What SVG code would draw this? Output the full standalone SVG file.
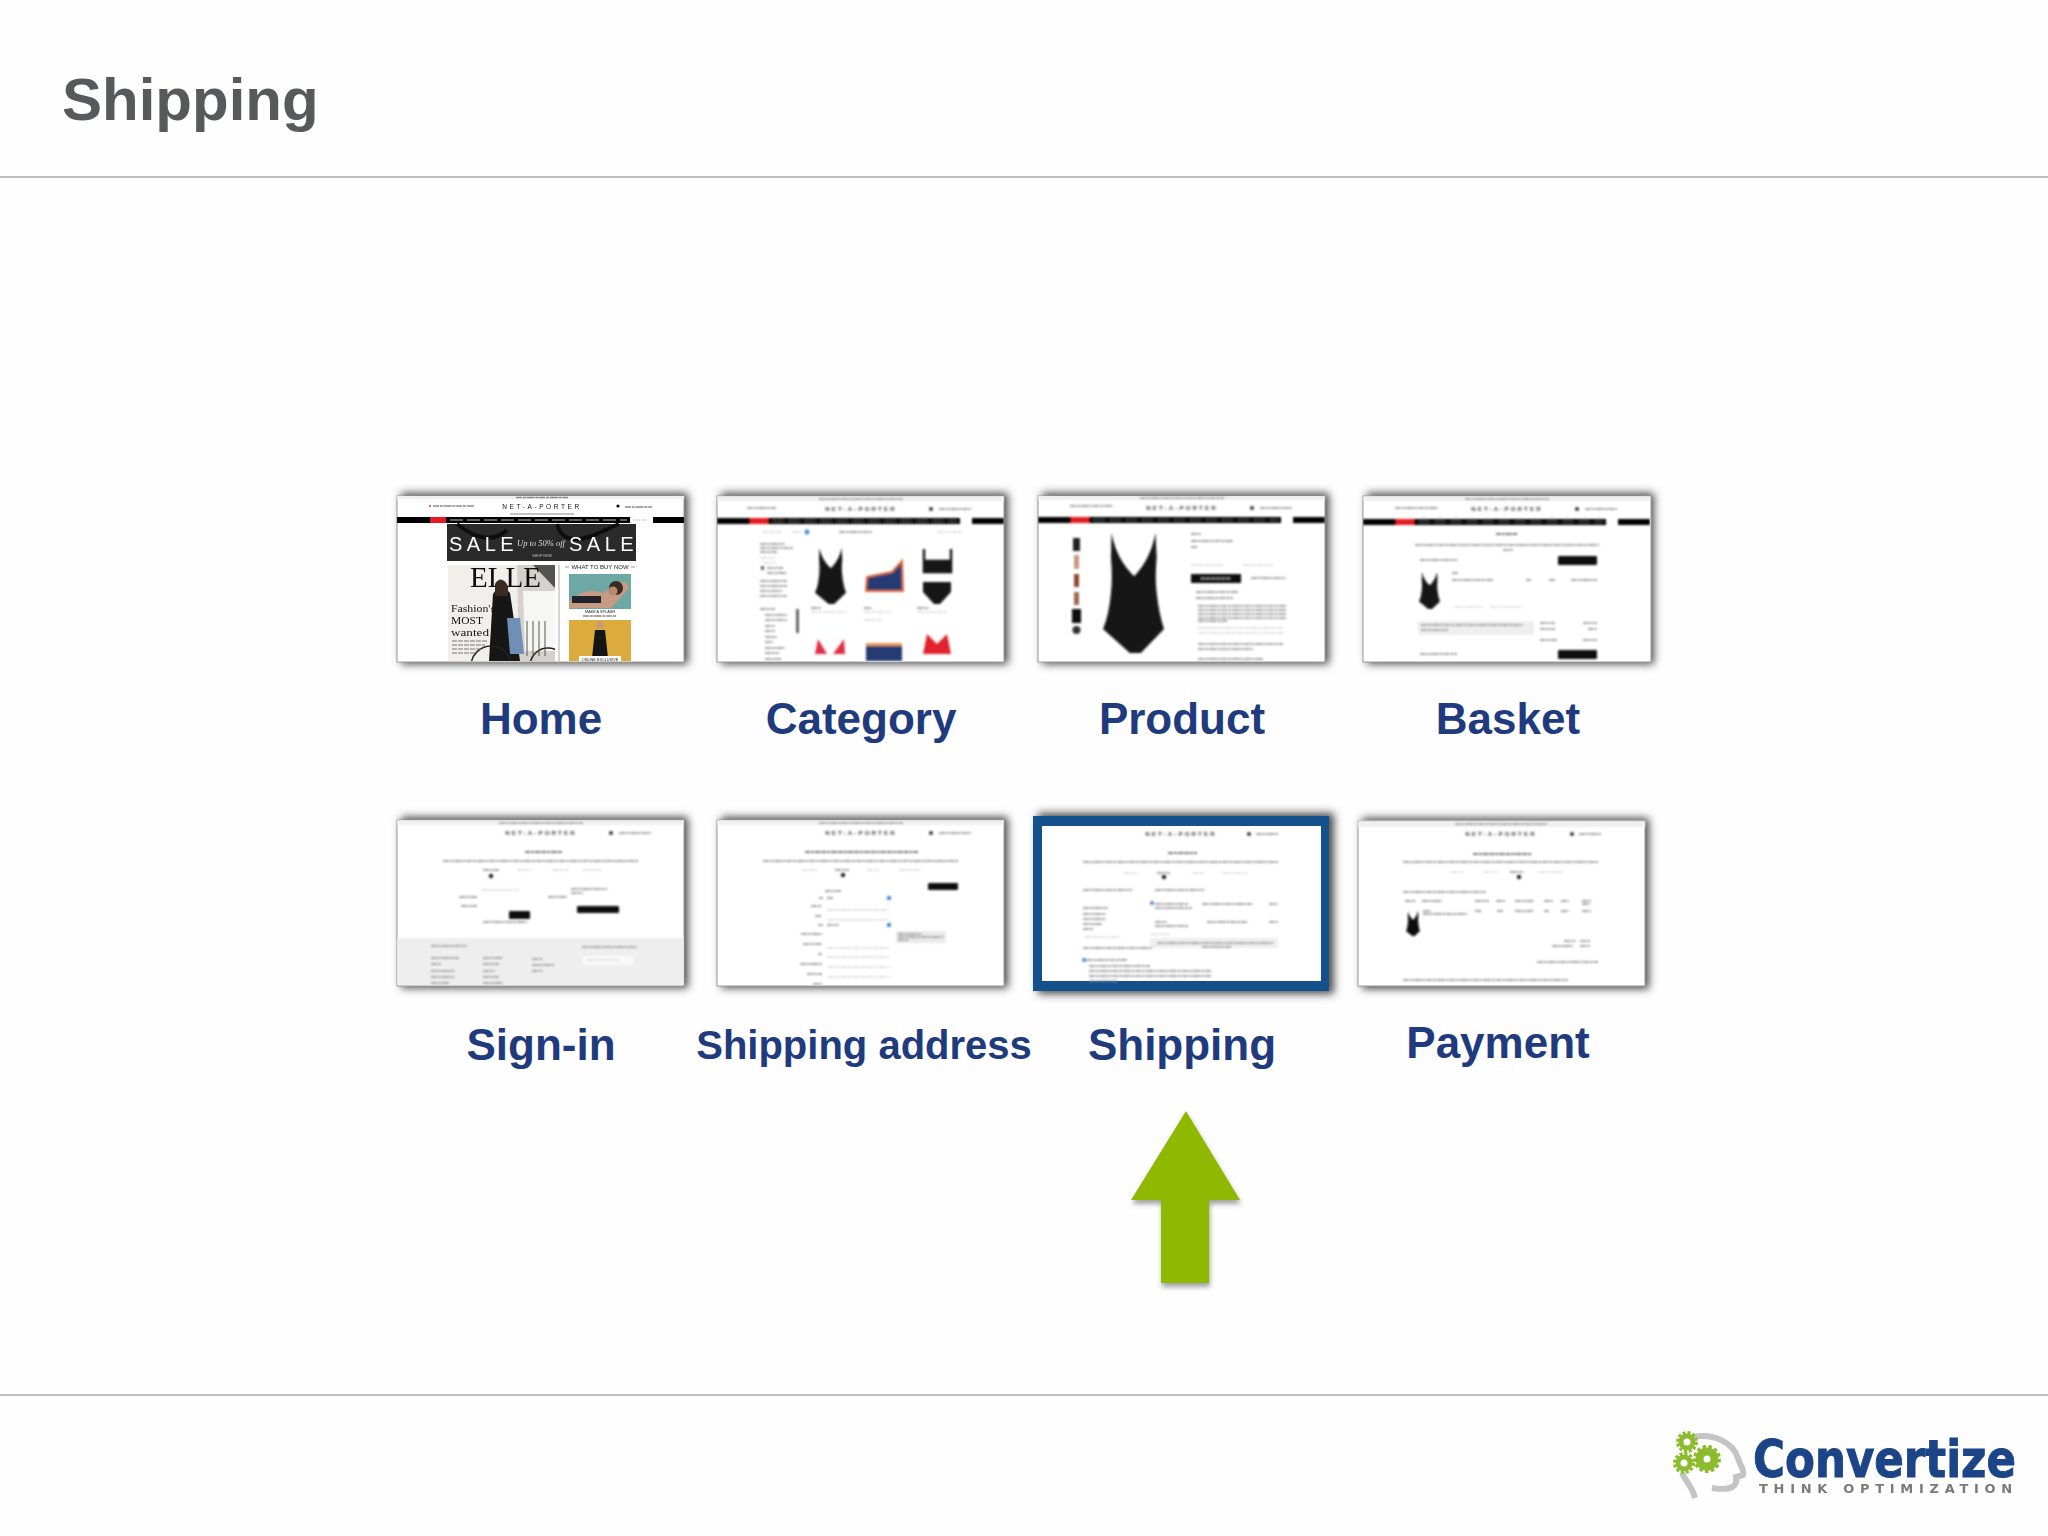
<svg xmlns="http://www.w3.org/2000/svg" xmlns:xlink="http://www.w3.org/1999/xlink" width="2048" height="1536" viewBox="0 0 2048 1536">
<style>
.rule{stroke:#a9a9a9;stroke-width:1.6;fill:none}
.title{font:bold 60px "Liberation Sans",Arial,sans-serif;fill:#58595b}
.lab{font:bold 44px "Liberation Sans",Arial,sans-serif;fill:#1f3b7d;text-anchor:middle}
.page{fill:#fff;stroke:#9a9a9a;stroke-width:1}
.shadow{fill:#4a4a4a;filter:url(#sh)}
.l{stroke:#8a8a8a;stroke-width:1.500;fill:none;stroke-dasharray:6 .8 3 .8 8 .8 3 .8}
.l2{stroke:#dadada;stroke-width:1.500;fill:none;stroke-dasharray:7 1 4 1}
.l3{stroke:#555;stroke-width:1.500;fill:none;stroke-dasharray:5 .8 3 .8 6 .8}
.logo{font:bold 6.200px "Liberation Sans",Arial,sans-serif;letter-spacing:2.100px;fill:#444;text-anchor:middle}
.s{font-family:"Liberation Sans",Arial,sans-serif;text-anchor:middle;fill:#222}
.serif{font-family:"Liberation Serif","Times New Roman",serif;fill:#111}
.gear{fill:#fff;stroke:#8cbb2e}
.gt{fill:none;stroke:#8cbb2e}
</style>
<defs>
<filter id="sh" x="-10%" y="-15%" width="120%" height="130%"><feGaussianBlur stdDeviation="4"/></filter>
<filter id="b1" x="-2%" y="-2%" width="104%" height="104%"><feGaussianBlur stdDeviation="0.45"/></filter>
<filter id="b2" x="-2%" y="-2%" width="104%" height="104%"><feGaussianBlur stdDeviation="1"/></filter>
<filter id="ash" x="-20%" y="-10%" width="140%" height="125%"><feDropShadow dx="1" dy="4" stdDeviation="2.500" flood-color="#555" flood-opacity=".55"/></filter>
<filter id="soft" x="-5%" y="-5%" width="110%" height="110%"><feGaussianBlur stdDeviation="0.5"/></filter>
<clipPath id="ph"><rect x="51" y="69" width="107" height="96"/></clipPath>
<clipPath id="pg"><rect width="287" height="165"/></clipPath>
<path id="suit" d="M14,0 Q22,22 51,36 Q78,22 86,0 L88,20 Q85,38 88,50 Q92,68 100,80 L62,100 H44 L0,80 Q10,68 13,50 Q16,38 13,20 Z"/>
<g id="hdr">
<rect width="287" height="5" fill="#efefef"/>
<path class="l" d="M102,3H186"/>
<text class="logo" x="144" y="15">NET-A-PORTER</text>
<circle cx="214" cy="13" r="2" fill="#333"/>
<path class="l" d="M222,13H254"/>
</g>
<g id="nav">
<rect x="0" y="22" width="243" height="6" fill="#000"/>
<rect x="255" y="22" width="32" height="6" fill="#000"/>
<rect x="33" y="22" width="18" height="6" fill="#e21a22"/>
<path d="M55,25H240" stroke="#666" stroke-width="1.200" stroke-dasharray="12 4"/>
</g>
<g id="track">
<path class="l" d="M46,41H241"/>
</g>
</defs>

<rect width="2048" height="1536" fill="#fefefe"/>

<g id="header">
<text class="title" x="62" y="120">Shipping</text>
<path class="rule" d="M0,177H2048"/>
</g>
<path id="footer-rule" class="rule" d="M0,1395H2048"/>

<g id="node-home" transform="translate(397,496)">
<rect class="shadow" x="4" y="-3" width="287" height="171"/>
<rect class="page" width="287" height="166"/>
<g filter="url(#b1)">
<rect width="287" height="3" fill="#eee"/>
<path class="l" d="M119,1.500H171" stroke-width="1"/>
<circle cx="33" cy="10" r="1" fill="#d33"/><path class="l" d="M36,10H77" stroke-width="1.200"/>
<text x="145" y="13" class="logo" style="font-size:6.500px;letter-spacing:2.600px;font-weight:normal;fill:#111">NET-A-PORTER</text>
<path d="M113,18H177" stroke="#888" stroke-width="1"/>
<circle cx="221" cy="10" r="1.600" fill="#111"/><path class="l" d="M228,11H255" stroke-width="1.200"/>
<rect y="21" width="233" height="6" fill="#000"/><rect x="256" y="21" width="31" height="6" fill="#000"/>
<rect x="33" y="21" width="16" height="6" fill="#e21a22"/>
<path d="M53,24H230" stroke="#bbb" stroke-width="1.200" stroke-dasharray="13 4"/>
<path class="l2" d="M236,24H250"/>
<rect x="50" y="28" width="189" height="37" fill="#2a2a2c"/>
<path d="M60,28 Q90,52 110,34 M160,28 Q165,50 195,40 L222,28" stroke="#111" stroke-width="4" fill="none"/>
<text x="52" y="55" style="font:20px 'Liberation Sans',Arial,sans-serif;letter-spacing:4.500px" fill="#fff">SALE</text>
<text x="172" y="55" style="font:20px 'Liberation Sans',Arial,sans-serif;letter-spacing:4.500px" fill="#fff">SALE</text>
<text x="144" y="50" class="serif" text-anchor="middle" style="font-size:8.500px;font-style:italic;fill:#ddd">Up to 50% off</text>
<text x="145" y="61" class="s" style="font-size:3.500px;fill:#ccc">SHOP NOW</text>
<g clip-path="url(#ph)">
<rect x="51" y="69" width="107" height="96" fill="#f1efec"/>
<path d="M120,69H158V165H122Z" fill="#d5d2cd"/>
<path d="M126,95H158V155H128Z" fill="#f6f6f4"/>
<path d="M136,69 L158,92V69Z" fill="#55524e"/>
<text x="73" y="91" class="serif" style="font-size:29px">ELLE</text>
<path d="M96,98 Q104,86 113,97 L123,165 H92Z" fill="#151515"/>
<circle cx="104" cy="90" r="6" fill="#a67a5f"/>
<path d="M98,88 Q104,78 111,90 L111,100 H98Z" fill="#3a2a22"/>
<path d="M110,122H123L127,158H113Z" fill="#6f8fb5"/>
<circle cx="94" cy="170" r="20" fill="none" stroke="#222" stroke-width="1.500"/>
<circle cx="151" cy="170" r="18" fill="none" stroke="#222" stroke-width="1.500"/>
<path d="M130,160 V125 M136,160 V125 M142,160 V125 M148,160 V125" stroke="#555" stroke-width="1"/>
<text x="54" y="116" class="serif" style="font-size:10.500px" textLength="44" lengthAdjust="spacingAndGlyphs">Fashion's</text>
<text x="54" y="128" class="serif" style="font-size:10.500px" textLength="32" lengthAdjust="spacingAndGlyphs">MOST</text>
<text x="54" y="140" class="serif" style="font-size:10.500px" textLength="38" lengthAdjust="spacingAndGlyphs">wanted</text>
<path d="M55,145H90M55,149H88M55,153H84M55,157H80" stroke="#777" stroke-width="1" stroke-dasharray="5 1"/>
</g>
<path d="M162,69V165" stroke="#aaa" stroke-width="1"/>
<path d="M168,71H172M234,71H238" stroke="#999" stroke-width="1"/>
<text x="203" y="73" class="s" style="font-size:6px">WHAT TO BUY NOW</text>
<rect x="172" y="78" width="62" height="42" fill="#6ea8a4"/>
<path d="M172,105 Q190,90 205,97 L228,85 L232,92 L214,112 H172Z" fill="#c79a82"/>
<rect x="175" y="100" width="29" height="7" fill="#23232d"/>
<circle cx="219" cy="92" r="7" fill="#3a2a24"/><circle cx="216" cy="95" r="4.500" fill="#b98a72"/>
<rect x="172" y="113" width="62" height="8" fill="#fff"/>
<text x="203" y="117" class="s" style="font-size:3.800px">MAKE A SPLASH</text>
<path class="l" d="M186,120H220" stroke-width="1"/>
<rect x="172" y="124" width="62" height="41" fill="#dcab3c"/>
<circle cx="203" cy="129" r="3.500" fill="#c49a7f"/>
<path d="M198,134H208L211,162H195Z" fill="#151515"/>
<rect x="182" y="160" width="42" height="5" fill="#fff"/>
<text x="203" y="164.500" class="s" style="font-size:3.800px">ONLINE EXCLUSIVE</text>
</g>
<text class="lab" x="144" y="238">Home</text>
</g>

<g id="node-category" transform="translate(717,496)">
<rect class="shadow" x="4" y="-3" width="287" height="171"/>
<rect class="page" width="287" height="166"/>
<g filter="url(#b2)" clip-path="url(#pg)">
<use href="#hdr"/><use href="#nav"/>
<path class="l" d="M30,12H60"/>
<path class="l2" d="M45,36H65M75,36H85M220,36H245"/><circle cx="90" cy="36" r="2.500" fill="#4a90d9"/>
<path class="l" d="M122,36H155" stroke-width="2"/>
<path class="l" d="M43,48H68M43,52H76M43,56H60"/><path class="l2" d="M43,62H58M46,67H60"/>
<rect x="44" y="70" width="3" height="4" fill="#666"/><path class="l" d="M50,72H66M50,77H70M43,85H70M43,90H70M43,95H65M43,100H70"/>
<path class="l" d="M43,113H58M48,119H70M48,124H70M48,130H58M48,135H58M48,141H60M48,146H56M48,152H68M48,157H62M48,163H64"/>
<rect x="79" y="113" width="3" height="24" fill="#666"/>
<use href="#suit" transform="translate(98,52) scale(.31,.56)" fill="#161616"/>
<path d="M150,81 L175,76 L185,65 L186,95 H149Z" fill="#253a73" stroke="#d96a3c" stroke-width="2"/>
<path d="M207,53V66H234V53M207,65H234V76H207Z" fill="none" stroke="#161616" stroke-width="2.500"/><rect x="206" y="65" width="29" height="11" fill="#161616"/>
<path d="M206,86H234V96L223,108H217L206,96Z" fill="#161616"/>
<path class="l2" d="M94,116H130M147,116H175M147,124H165M200,116H230"/>
<path class="l" d="M94,112H104M147,112H155M200,112H212"/>
<path d="M98,158 L101,143 L110,158Z M116,158 L127,143 L128,158Z" fill="#dd2e45"/>
<rect x="149" y="149" width="36" height="16" fill="#253a73"/><rect x="149" y="147" width="36" height="3" fill="#e59a55"/>
<path d="M206,158 L210,138 L220,148 L230,138 L234,158Z" fill="#e0202e"/>
</g>
<text class="lab" x="144" y="238">Category</text>
</g>

<g id="node-product" transform="translate(1038,496)">
<rect class="shadow" x="4" y="-3" width="287" height="171"/>
<rect class="page" width="287" height="166"/>
<g filter="url(#b2)" clip-path="url(#pg)">
<use href="#hdr" transform="translate(0,-1)"/>
<use href="#nav" transform="translate(0,-1)"/>
<path class="l" d="M32,10H75"/>
<use href="#suit" transform="translate(65,37) scale(.61,1.200)" fill="#151515"/>
<rect x="35" y="42" width="7" height="13" fill="#222"/>
<rect x="36" y="59" width="5" height="14" fill="#c49a80"/>
<rect x="36" y="78" width="5" height="13" fill="#8a4a30"/>
<rect x="36" y="96" width="5" height="13" fill="#9b6a50"/>
<rect x="34" y="113" width="9" height="14" fill="#111"/>
<circle cx="38.500" cy="134" r="4" fill="#333"/>
<path class="l" d="M153,38H163M153,45H195M153,51H160" />
<path class="l2" d="M153,69H185M205,69H235"/>
<rect x="153" y="78" width="50" height="9" fill="#111"/>
<path d="M163,82.500H193" stroke="#aaa" stroke-width="1" stroke-dasharray="4 1"/>
<path class="l" d="M213,82H248M158,96H200M158,102H195M160,110H248M160,114H248M160,118H248M160,122H248M160,125H190"/>
<path class="l2" d="M160,132H245M160,137H245"/>
<path class="l" d="M160,148H245M160,153H215M160,163H225"/>
</g>
<text class="lab" x="144" y="238">Product</text>
</g>

<g id="node-basket" transform="translate(1363,496)">
<rect class="shadow" x="4" y="-3" width="287" height="171"/>
<rect class="page" width="288" height="166"/>
<g filter="url(#b2)" clip-path="url(#pg)">
<use href="#hdr"/><use href="#nav" transform="translate(0,1)"/>
<path class="l" d="M32,12H75"/>
<path class="l3" d="M133,38H155" stroke-width="2.500"/>
<path class="l" d="M52,49H236M140,54H150"/>
<path class="l" d="M57,64H94"/>
<rect x="195" y="60" width="39" height="9" rx="1" fill="#111"/>
<path class="l2" d="M91,111H120M127,111H158"/>
<use href="#suit" transform="translate(56,76) scale(.21,.37)" fill="#151515"/>
<path class="l" d="M89,77H95M89,84H130M163,84H168M186,84H192M208,84H234"/>
<rect x="55" y="125" width="116" height="14" fill="#eee"/>
<path class="l" d="M58,129H160M58,134H85M177,127H192M220,127H234M177,133H192M225,133H234M177,144H194M220,144H234M57,158H94"/>
<rect x="195" y="154" width="39" height="9" rx="1" fill="#111"/>
</g>
<text class="lab" x="145" y="238">Basket</text>
</g>

<g id="node-sign-in" transform="translate(397,820)">
<rect class="shadow" x="4" y="-3" width="287" height="171"/>
<rect class="page" width="287" height="166"/>
<g filter="url(#b2)" clip-path="url(#pg)">
<use href="#hdr"/>
<path class="l3" d="M128,32H165" stroke-width="2"/>
<use href="#track"/>
<path class="l" d="M86,50H102" /><path class="l2" d="M120,50H135M155,50H172M185,50H205"/>
<circle cx="94" cy="56" r="2.200" fill="#222"/>
<path class="l2" d="M84,70H122"/><path class="l" d="M174,69H210M174,73H186M62,77H80M151,77H170M64,86H80"/>
<rect x="112" y="91" width="21" height="8" rx="1" fill="#111"/>
<rect x="180" y="86" width="42" height="7" rx="1" fill="#111"/>
<path class="l" d="M86,102H130"/>
<rect y="118" width="287" height="48" fill="#eeeeef"/>
<path class="l" d="M34,126H70M185,127H240M34,138H62M86,138H106M135,139H146M34,144H44M86,144H102M135,145H158M34,151H58M86,151H98M135,151H146M34,157H58M86,157H102M34,163H52M86,163H106"/>
<rect x="186" y="136" width="50" height="9" fill="#f9f9f9"/>
<path class="l2" d="M190,140H222"/>
</g>
<text class="lab" x="144" y="240">Sign-in</text>
</g>

<g id="node-shipping-address" transform="translate(717,820)">
<rect class="shadow" x="4" y="-3" width="287" height="171"/>
<rect class="page" width="287" height="166"/>
<g filter="url(#b2)" clip-path="url(#pg)">
<use href="#hdr"/>
<path class="l3" d="M88,32H201" stroke-width="2"/>
<use href="#track"/>
<path class="l2" d="M85,50H100M150,50H162M182,50H204"/><path class="l" d="M118,50H132"/>
<circle cx="126" cy="55" r="2.200" fill="#222"/>
<rect x="211" y="63" width="30" height="7" rx="1" fill="#111"/>
<path class="l" d="M108,71H124M102,78H106M94,86H105M98,96H105M101,105H106M84,114H105M86,124H105M101,134H105M83,144H105M90,154H105M96,164H105"/>
<path class="l" d="M110,78H116M110,105H122"/>
<path class="l2" d="M110,90H172M110,100H172M110,128H172M110,137H172M110,147H172M110,157H172"/>
<circle cx="172" cy="78" r="2.200" fill="#3d87d8"/><circle cx="172" cy="105" r="2.200" fill="#3d87d8"/>
<rect x="179" y="111" width="50" height="12" fill="#eaeaea"/>
<path class="l" d="M181,114H205M181,117H226M181,120H192" stroke-width="1"/>
</g>
<text class="lab" style="font-size:40px" x="147" y="239">Shipping address</text>
</g>

<g id="node-shipping" transform="translate(1033,816)">
<rect class="shadow" x="5" y="-3" width="296" height="181"/>
<rect width="296" height="175" fill="#14508c"/>
<rect x="9" y="10" width="279" height="155" fill="#fff"/>
<g filter="url(#b2)" transform="translate(9,10)">
<text class="logo" x="139" y="10">NET-A-PORTER</text>
<circle cx="207" cy="8" r="2" fill="#333"/><path class="l" d="M214,8H236"/>
<path class="l3" d="M126,27H155" stroke-width="2"/>
<path class="l" d="M41,36H236"/>
<path class="l2" d="M81,47H96M150,47H162M180,47H205"/><path class="l" d="M115,47H128"/>
<circle cx="122" cy="51" r="2.200" fill="#222"/>
<path class="l" d="M41,64H90M113,64H162M41,82H66M41,88H64M41,93H64M41,98H60M41,103H52M113,78H146M160,78H210M227,78H236M113,82H150M113,96H125M113,100H146M165,96H205M227,96H236"/>
<circle cx="110" cy="77" r="2" fill="#3d87d8"/>
<path class="l2" d="M43,111H78M108,108H128"/>
<rect x="108" y="112" width="128" height="10" fill="#eee"/>
<path class="l" d="M115,117H232M160,121H190" stroke-width="1"/>
<path class="l" d="M41,122H110M44,134H85"/><circle cx="42" cy="134" r="2" fill="#3d87d8"/>
<path class="l" d="M47,140H108M47,145H170M47,150H170M47,155H75"/>
</g>
<text class="lab" x="149" y="244">Shipping</text>
</g>

<g id="node-payment" transform="translate(1358,821)">
<rect class="shadow" x="4" y="-3" width="287" height="171"/>
<rect class="page" width="287" height="165"/>
<g filter="url(#b2)">
<rect width="287" height="6" fill="#efefef"/>
<path class="l" d="M97,3H189" stroke-width="1.200"/>
<text class="logo" x="143" y="15">NET-A-PORTER</text>
<circle cx="214" cy="13" r="2" fill="#333"/><path class="l" d="M221,13H243"/>
<path class="l3" d="M115,33H174" stroke-width="2"/>
<path class="l" d="M45,41H240"/>
<path class="l2" d="M92,51H106M125,51H140M180,51H205"/><path class="l" d="M152,51H165"/>
<circle cx="161" cy="56" r="2.200" fill="#222"/>
<path class="l" d="M45,71H128M47,80H58M64,80H84M117,80H131M138,80H147M157,80H176M186,80H195M203,80H211M224,80H233M224,83H232"/>
<path class="l" d="M65,90H73M65,93H109M117,90H124M139,90H145M157,90H175M186,90H191M203,90H211M224,90H233"/>
<use href="#suit" transform="translate(48,90) scale(.14,.25)" fill="#111"/>
<path class="l" d="M206,120H218M222,120H232M194,125H215M222,125H232M179,141H240M45,159H210"/>
</g>
<text class="lab" x="140" y="237">Payment</text>
</g>

<g id="pointer-arrow">
<path d="M1186,1111 L1240,1200 H1209 V1283 H1161 V1200 H1131 Z" fill="#8fb800" filter="url(#ash)"/>
</g>

<g id="convertize-logo" filter="url(#soft)">
<path d="M1693,1437 C1715,1433 1733,1443 1738,1458 C1740,1466 1745,1470 1743,1475 L1736,1477 C1738,1486 1732,1491 1712,1488" fill="none" stroke="#c4c4c4" stroke-width="6"/>
<path d="M1682,1473 C1686,1482 1692,1486 1695,1498" fill="none" stroke="#c4c4c4" stroke-width="6"/>
<g>
<circle cx="1687" cy="1442" r="6" class="gear" stroke-width="5"/><circle cx="1687" cy="1442" r="9.500" class="gt" stroke-width="3" stroke-dasharray="3 2"/>
<circle cx="1707" cy="1459" r="7.500" class="gear" stroke-width="8"/><circle cx="1707" cy="1459" r="12.500" class="gt" stroke-width="3" stroke-dasharray="3.500 2.500"/>
<circle cx="1684" cy="1463" r="6" class="gear" stroke-width="5"/><circle cx="1684" cy="1463" r="9.500" class="gt" stroke-width="3" stroke-dasharray="3 2"/>
</g>
<text x="1753" y="1477" textLength="263" lengthAdjust="spacingAndGlyphs" stroke="#1c4488" stroke-width="1" style="font:bold 52px 'DejaVu Sans',sans-serif" fill="#1c4488">Convertize</text>
<text x="1759" y="1493" style="font:bold 13px 'DejaVu Sans',sans-serif;letter-spacing:5.700px" fill="#7a7a7a">THINK OPTIMIZATION</text>
</g>
</svg>
